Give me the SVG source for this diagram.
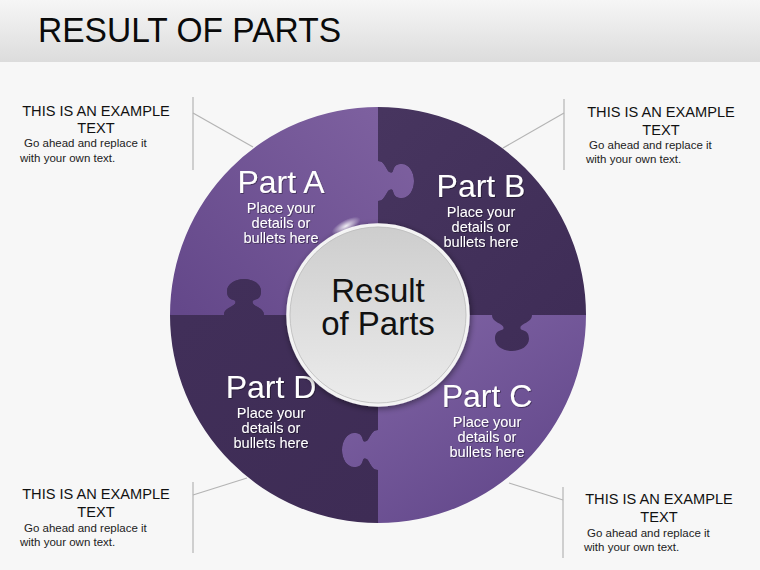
<svg xmlns="http://www.w3.org/2000/svg" width="760" height="570" viewBox="0 0 760 570">
<style>
.hd{font-family:"Liberation Sans",Arial,sans-serif;font-size:14.6px;fill:#111;text-anchor:middle}
.bd{font-family:"Liberation Sans",Arial,sans-serif;font-size:11.5px;fill:#222}
.pt{font-family:"Liberation Sans",Arial,sans-serif;font-size:32px;fill:#fff;text-anchor:middle}
.ps{font-family:"Liberation Sans",Arial,sans-serif;font-size:14.5px;fill:#fff;text-anchor:middle}
.ct{font-family:"Liberation Sans",Arial,sans-serif;font-size:33px;fill:#111;text-anchor:middle}
.ln{stroke:#b4b4b4;stroke-width:1.2;fill:none}
</style>
<defs>
<linearGradient id="hdr" x1="0" y1="0" x2="0" y2="1"><stop offset="0" stop-color="#f6f6f6"/><stop offset="1" stop-color="#dcdcdc"/></linearGradient>
<linearGradient id="gA" gradientUnits="userSpaceOnUse" x1="375" y1="110" x2="180" y2="310"><stop offset="0" stop-color="#7d609f"/><stop offset="1" stop-color="#64488a"/></linearGradient>
<linearGradient id="gC" gradientUnits="userSpaceOnUse" x1="400" y1="320" x2="530" y2="515"><stop offset="0" stop-color="#7e62a3"/><stop offset="1" stop-color="#62478a"/></linearGradient>
<linearGradient id="gB" gradientUnits="userSpaceOnUse" x1="380" y1="110" x2="580" y2="310"><stop offset="0" stop-color="#47355f"/><stop offset="1" stop-color="#3f2d57"/></linearGradient>
<linearGradient id="gD" gradientUnits="userSpaceOnUse" x1="180" y1="320" x2="375" y2="520"><stop offset="0" stop-color="#412f59"/><stop offset="1" stop-color="#3e2c55"/></linearGradient>
<linearGradient id="gM" x1="0" y1="0" x2="0" y2="1"><stop offset="0" stop-color="#cdcdcd"/><stop offset="1" stop-color="#ececec"/></linearGradient>
<radialGradient id="glint" cx="0.5" cy="0.5" r="0.5"><stop offset="0" stop-color="#ffffff" stop-opacity="0.9"/><stop offset="1" stop-color="#ffffff" stop-opacity="0"/></radialGradient>
<filter id="sh" x="-20%" y="-20%" width="140%" height="140%"><feDropShadow dx="1" dy="2" stdDeviation="3" flood-color="#000" flood-opacity="0.45"/></filter>
<filter id="ts" x="-10%" y="-10%" width="120%" height="130%"><feDropShadow dx="0.8" dy="0.8" stdDeviation="0.6" flood-color="#000" flood-opacity="0.45"/></filter>
</defs>
<rect x="0" y="0" width="760" height="570" fill="#f7f7f7"/>
<rect x="0" y="0" width="760" height="62" fill="url(#hdr)"/>
<text x="38" y="42" font-family="'Liberation Sans',Arial,sans-serif" font-size="35" fill="#0a0a0a" textLength="303" lengthAdjust="spacingAndGlyphs">RESULT OF PARTS</text>

<g id="connectors">
<line class="ln" x1="193" y1="97" x2="193" y2="170"/>
<line class="ln" x1="193" y1="113" x2="253" y2="147"/>
<line class="ln" x1="564" y1="99" x2="564" y2="170"/>
<line class="ln" x1="564" y1="113" x2="503" y2="148"/>
<line class="ln" x1="193" y1="482" x2="193" y2="553"/>
<line class="ln" x1="193" y1="495" x2="247" y2="478"/>
<line class="ln" x1="563" y1="487" x2="563" y2="558"/>
<line class="ln" x1="509" y1="483" x2="563" y2="500"/>
</g>

<circle cx="378" cy="315" r="207" fill="#44325c"/>

<g id="partA">
<path fill="url(#gA)" d="M378,315 L264,315 C264,307 252.5,307 252.5,302 C252.5,298 261,302 261,291 C261,284 253,279 244,279 C235,279 227,284 227,291 C227,302 235.5,298 235.5,302 C235.5,307 224,307 224,315 L170,315 A208,208 0 0 1 378,107 L378,161 C386,161 386,172.5 391,172.5 C395,172.5 391,164 402,164 C409,164 414,172 414,181 C414,190 409,198 402,198 C391,198 395,189.5 391,189.5 C386,189.5 386,201 378,201 L378,315 Z"/>
</g>
<g id="partB">
<path fill="url(#gB)" d="M378,315 L378,201 C386,201 386,189.5 391,189.5 C395,189.5 391,198 402,198 C409,198 414,190 414,181 C414,172 409,164 402,164 C391,164 395,172.5 391,172.5 C386,172.5 386,161 378,161 L378,107 A208,208 0 0 1 586,315 L532,315 C532,323 520.5,323 520.5,328 C520.5,332 529,328 529,339 C529,346 521,351 512,351 C503,351 495,346 495,339 C495,328 503.5,332 503.5,328 C503.5,323 492,323 492,315 L378,315 Z"/>
</g>
<g id="partC">
<path fill="url(#gC)" d="M378,315 L492,315 C492,323 503.5,323 503.5,328 C503.5,332 495,328 495,339 C495,346 503,351 512,351 C521,351 529,346 529,339 C529,328 520.5,332 520.5,328 C520.5,323 532,323 532,315 L586,315 A208,208 0 0 1 378,523 L378,470 C370,470 370,458.5 365,458.5 C361,458.5 365,467 354,467 C347,467 342,459 342,450 C342,441 347,433 354,433 C365,433 361,441.5 365,441.5 C370,441.5 370,430 378,430 L378,315 Z"/>
</g>
<g id="partD">
<path fill="url(#gD)" d="M378,315 L378,430 C370,430 370,441.5 365,441.5 C361,441.5 365,433 354,433 C347,433 342,441 342,450 C342,459 347,467 354,467 C365,467 361,458.5 365,458.5 C370,458.5 370,470 378,470 L378,523 A208,208 0 0 1 170,315 L224,315 C224,307 235.5,307 235.5,302 C235.5,298 227,302 227,291 C227,284 235,279 244,279 C253,279 261,284 261,291 C261,302 252.5,298 252.5,302 C252.5,307 264,307 264,315 L378,315 Z"/>
</g>

<g id="labels" filter="url(#ts)">
<text class="pt" x="281" y="193">Part A</text>
<text class="ps" x="281" y="213">Place your</text>
<text class="ps" x="281" y="228">details or</text>
<text class="ps" x="281" y="243">bullets here</text>
<text class="pt" x="481" y="197">Part B</text>
<text class="ps" x="481" y="217">Place your</text>
<text class="ps" x="481" y="232">details or</text>
<text class="ps" x="481" y="247">bullets here</text>
<text class="pt" x="487" y="407">Part C</text>
<text class="ps" x="487" y="427">Place your</text>
<text class="ps" x="487" y="442">details or</text>
<text class="ps" x="487" y="457">bullets here</text>
<text class="pt" x="271" y="398">Part D</text>
<text class="ps" x="271" y="418">Place your</text>
<text class="ps" x="271" y="433">details or</text>
<text class="ps" x="271" y="448">bullets here</text>
</g>

<g id="center">
<circle cx="378" cy="315" r="90" fill="url(#gM)" stroke="#f3f3f3" stroke-width="3.5" filter="url(#sh)"/>
<circle cx="378" cy="315" r="88" fill="none" stroke="#bdbdbd" stroke-width="0.8"/>
<ellipse cx="346" cy="226" rx="16" ry="6" fill="url(#glint)" transform="rotate(-28 346 226)"/>
<text class="ct" x="378" y="302">Result</text>
<text class="ct" x="378" y="335">of Parts</text>
</g>

<g id="noteTL">
<text class="hd" x="96" y="116">THIS IS AN EXAMPLE</text>
<text class="hd" x="96" y="133">TEXT</text>
<text class="bd" x="24" y="147">Go ahead and replace it</text>
<text class="bd" x="20" y="162">with your own text.</text>
</g>
<g id="noteTR">
<text class="hd" x="661" y="117">THIS IS AN EXAMPLE</text>
<text class="hd" x="661" y="135">TEXT</text>
<text class="bd" x="589" y="149">Go ahead and replace it</text>
<text class="bd" x="586" y="163">with your own text.</text>
</g>
<g id="noteBL">
<text class="hd" x="96" y="499">THIS IS AN EXAMPLE</text>
<text class="hd" x="96" y="517">TEXT</text>
<text class="bd" x="24" y="532">Go ahead and replace it</text>
<text class="bd" x="20" y="546">with your own text.</text>
</g>
<g id="noteBR">
<text class="hd" x="659" y="504">THIS IS AN EXAMPLE</text>
<text class="hd" x="659" y="522">TEXT</text>
<text class="bd" x="587" y="537">Go ahead and replace it</text>
<text class="bd" x="584" y="551">with your own text.</text>
</g>
</svg>
